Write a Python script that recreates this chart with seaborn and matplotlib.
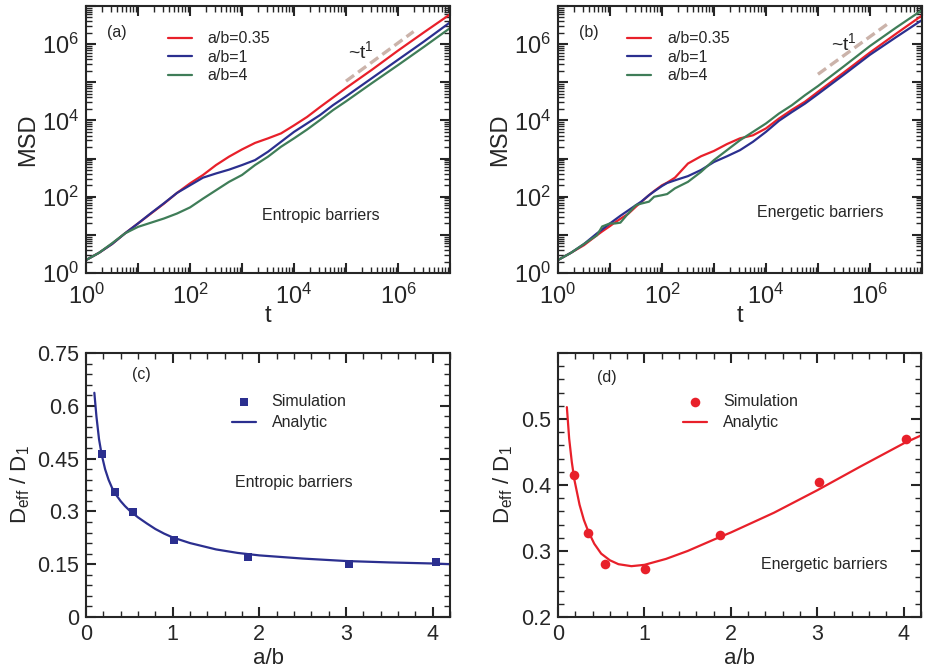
import numpy as np
import pandas as pd
import matplotlib
matplotlib.use('Agg')
import matplotlib.pyplot as plt
import matplotlib.ticker as mticker
import seaborn as sns

# ---- data ----
# panel (a): entropic barriers, log10(t) and log10(MSD)
logt_a = [0.0, 0.25, 0.5, 0.75, 1.0, 1.25, 1.5, 1.75, 2.0, 2.25, 2.5, 2.75, 3.0, 3.25, 3.5,
          3.75, 4.0, 4.25, 4.5, 4.75, 5.0, 5.5, 6.0, 6.5, 7.0]
red_a = [0.34, 0.53, 0.76, 1.04, 1.30, 1.56, 1.82, 2.10, 2.35, 2.57, 2.83, 3.05, 3.24, 3.41, 3.53,
         3.66, 3.87, 4.09, 4.35, 4.60, 4.85, 5.33, 5.83, 6.31, 6.78]
blue_a = [0.34, 0.53, 0.76, 1.04, 1.30, 1.57, 1.83, 2.10, 2.30, 2.50, 2.61, 2.71, 2.83, 2.96, 3.18,
          3.44, 3.70, 3.92, 4.14, 4.40, 4.63, 5.11, 5.59, 6.07, 6.57]
green_a = [0.34, 0.53, 0.78, 1.04, 1.21, 1.32, 1.43, 1.56, 1.72, 1.95, 2.17, 2.39, 2.57, 2.83, 3.05,
           3.31, 3.53, 3.76, 4.01, 4.27, 4.50, 4.98, 5.45, 5.93, 6.42]

# panel (b): energetic barriers
logt_b = [0.0, 0.25, 0.5, 0.75, 0.85, 1.0, 1.1, 1.2, 1.35, 1.5, 1.6, 1.75, 1.85, 2.0, 2.1, 2.25,
          2.5, 2.75, 3.0, 3.25, 3.5, 3.75, 4.0, 4.25, 4.5, 4.75, 5.0, 5.5, 6.0, 6.5, 7.0]
red_b = [0.34, 0.53, 0.73, 0.99, 1.09, 1.23, 1.33, 1.42, 1.55, 1.74, 1.86, 2.04, 2.15, 2.30, 2.37, 2.50,
         2.87, 3.06, 3.20, 3.38, 3.53, 3.61, 3.79, 4.05, 4.28, 4.49, 4.75, 5.26, 5.78, 6.27, 6.75]
blue_b = [0.34, 0.53, 0.76, 1.04, 1.14, 1.30, 1.40, 1.50, 1.64, 1.78, 1.87, 2.04, 2.14, 2.28, 2.36, 2.43,
          2.54, 2.70, 2.91, 3.06, 3.22, 3.44, 3.70, 3.99, 4.22, 4.44, 4.69, 5.20, 5.72, 6.18, 6.63]
green_b = [0.34, 0.53, 0.76, 0.99, 1.22, 1.30, 1.30, 1.32, 1.56, 1.78, 1.82, 1.87, 2.00, 2.04, 2.07, 2.22,
           2.39, 2.65, 2.96, 3.22, 3.48, 3.70, 3.92, 4.18, 4.40, 4.66, 4.90, 5.42, 5.95, 6.43, 6.89]

# t^1 guide lines (log10 t, log10 MSD)
guide_a_t = [5.0, 6.3]
guide_a_y = [5.03, 6.33]
guide_b_t = [5.0, 6.33]
guide_b_y = [5.21, 6.52]

# panel (c): D_eff/D_1, entropic
ab_sim_c = [0.18, 0.34, 0.54, 1.01, 1.87, 3.03, 4.04]
d_sim_c = [0.463, 0.354, 0.298, 0.219, 0.170, 0.151, 0.156]
ab_fit_c = [0.096, 0.12, 0.15, 0.18, 0.22, 0.26, 0.30, 0.35, 0.40, 0.45, 0.50, 0.60, 0.70, 0.80,
            0.90, 1.0, 1.2, 1.5, 1.75, 2.0, 2.5, 3.0, 3.5, 4.0, 4.2]
d_fit_c = [0.637, 0.570, 0.505, 0.462, 0.420, 0.390, 0.367, 0.346, 0.329, 0.315, 0.303, 0.283,
           0.266, 0.250, 0.237, 0.226, 0.210, 0.192, 0.182, 0.175, 0.166, 0.159, 0.155, 0.152, 0.150]

# panel (d): D_eff/D_1, energetic
ab_sim_d = [0.19, 0.35, 0.55, 1.01, 1.87, 3.02, 4.03]
d_sim_d = [0.415, 0.327, 0.280, 0.272, 0.324, 0.404, 0.470]
ab_fit_d = [0.103, 0.13, 0.16, 0.19, 0.25, 0.30, 0.35, 0.42, 0.50, 0.60, 0.70, 0.85, 1.0,
            1.25, 1.5, 1.87, 2.0, 2.5, 3.0, 3.5, 4.0, 4.2]
d_fit_d = [0.518, 0.470, 0.435, 0.408, 0.370, 0.347, 0.330, 0.311, 0.296, 0.286, 0.280, 0.277,
           0.279, 0.288, 0.300, 0.321, 0.328, 0.358, 0.392, 0.428, 0.463, 0.475]

labels = ['a/b=0.35', 'a/b=1', 'a/b=4']
RED = '#e8202a'
BLUE = '#2b2f8f'
GREEN = '#3f7d58'
GUIDE = '#cbb3aa'

sns.set_style('ticks')
plt.rcParams['font.family'] = ['Liberation Sans', 'DejaVu Sans']
plt.rcParams['mathtext.default'] = 'regular'
plt.rcParams['axes.linewidth'] = 1.5

fig = plt.figure(figsize=(9.29, 6.71), dpi=100)
ax_a = fig.add_axes([0.0926, 0.5931, 0.3918, 0.398])
ax_b = fig.add_axes([0.6006, 0.5931, 0.3918, 0.398])
ax_c = fig.add_axes([0.0926, 0.0805, 0.3918, 0.3934])
ax_d = fig.add_axes([0.6006, 0.0805, 0.3907, 0.3934])


def style_ticks(ax, size=15):
    ax.tick_params(which='both', direction='in', top=True, right=True, labelsize=size)
    ax.tick_params(which='major', length=7, width=1.5, pad=5)
    ax.tick_params(which='minor', length=4, width=1.0)


def even_pow(v, p):
    e = int(round(np.log10(v)))
    return '$10^{%d}$' % e if e % 2 == 0 else ''


def msd_panel(ax, logt, series, gt, gy, tag, note, note_xy, guide_lbl_xy, leg_x):
    t = 10 ** np.array(logt)
    for vals, col, lab in zip(series, [RED, BLUE, GREEN], labels):
        df = pd.DataFrame({'t': t, 'msd': 10 ** np.array(vals)})
        sns.lineplot(data=df, x='t', y='msd', ax=ax, color=col, lw=1.6, label=lab,
                     estimator=None, sort=False)
    ax.plot(10 ** np.array(gt), 10 ** np.array(gy), ls=(0, (3, 1.5)), color=GUIDE, lw=2.4)
    ax.set_xscale('log')
    ax.set_yscale('log')
    ax.set_xlim(1, 1e7)
    ax.set_ylim(1, 1e7)
    for axis in (ax.xaxis, ax.yaxis):
        axis.set_major_locator(mticker.LogLocator(base=10, numticks=20))
        axis.set_minor_locator(mticker.LogLocator(base=10, subs=np.arange(2, 10), numticks=20))
        axis.set_minor_formatter(mticker.NullFormatter())
        axis.set_major_formatter(mticker.FuncFormatter(even_pow))
    style_ticks(ax, 17)
    ax.tick_params(axis='x', which='major', pad=8)
    ax.set_xlabel('t', fontsize=17, labelpad=-3)
    ax.set_ylabel('MSD', fontsize=17, labelpad=2)
    ax.legend(loc='upper left', bbox_to_anchor=(leg_x, 0.905), frameon=False, fontsize=11.5,
              handlelength=1.5, handletextpad=1.0, labelspacing=0.22, borderpad=0, borderaxespad=0)
    ax.text(*guide_lbl_xy, r'~t$^{1}$', transform=ax.transAxes, fontsize=14, ha='center', va='center')
    ax.text(0.085, 0.90, tag, transform=ax.transAxes, fontsize=11.5, ha='center', va='center')
    ax.text(*note_xy, note, transform=ax.transAxes, fontsize=11.5, ha='center', va='center')


msd_panel(ax_a, logt_a, [red_a, blue_a, green_a], guide_a_t, guide_a_y, '(a)',
          'Entropic barriers', (0.646, 0.216), (0.755, 0.83), 0.225)
msd_panel(ax_b, logt_b, [red_b, blue_b, green_b], guide_b_t, guide_b_y, '(b)',
          'Energetic barriers', (0.72, 0.228), (0.785, 0.86), 0.19)


def deff_panel(ax, ab_s, d_s, ab_f, d_f, col, marker, msize, ylim, major, minor, tag, tag_xy,
               note, note_xy, leg_x):
    sns.scatterplot(x=ab_s, y=d_s, ax=ax, color=col, marker=marker, s=msize, linewidth=0,
                    label='Simulation', zorder=3)
    sns.lineplot(x=ab_f, y=d_f, ax=ax, color=col, lw=1.6, label='Analytic', estimator=None, sort=False)
    ax.set_xlim(0, 4.2)
    ax.set_ylim(*ylim)
    ax.xaxis.set_major_locator(mticker.MultipleLocator(1))
    ax.xaxis.set_minor_locator(mticker.MultipleLocator(0.2))
    ax.yaxis.set_major_locator(mticker.MultipleLocator(major))
    ax.yaxis.set_minor_locator(mticker.MultipleLocator(minor))
    style_ticks(ax, 15.5)
    ax.set_xlabel('a/b', fontsize=16, labelpad=2)
    ax.set_ylabel(r'D$_{eff}$ / D$_{1}$', fontsize=16, labelpad=4)
    ax.legend(loc='upper left', bbox_to_anchor=(leg_x, 0.845), frameon=False, fontsize=11.5,
              handlelength=1.5, handletextpad=1.0, labelspacing=0.4, borderpad=0, borderaxespad=0)
    ax.text(*tag_xy, tag, transform=ax.transAxes, fontsize=11.5, ha='center', va='center')
    ax.text(*note_xy, note, transform=ax.transAxes, fontsize=11.5, ha='center', va='center')


deff_panel(ax_c, ab_sim_c, d_sim_c, ab_fit_c, d_fit_c, BLUE, 's', 30, (0, 0.75), 0.15, 0.03,
           '(c)', (0.153, 0.918), 'Entropic barriers', (0.57, 0.51), 0.40)
ax_c.yaxis.set_major_formatter(mticker.FuncFormatter(lambda v, p: ('%g' % round(v, 2))))
deff_panel(ax_d, ab_sim_d, d_sim_d, ab_fit_d, d_fit_d, RED, 'o', 48, (0.2, 0.6), 0.1, 0.02,
           '(d)', (0.135, 0.909), 'Energetic barriers', (0.735, 0.20), 0.345)
ax_d.yaxis.set_major_formatter(mticker.FuncFormatter(lambda v, p: '' if v > 0.55 else '%g' % round(v, 2)))

fig.savefig('out.png', dpi=100)
